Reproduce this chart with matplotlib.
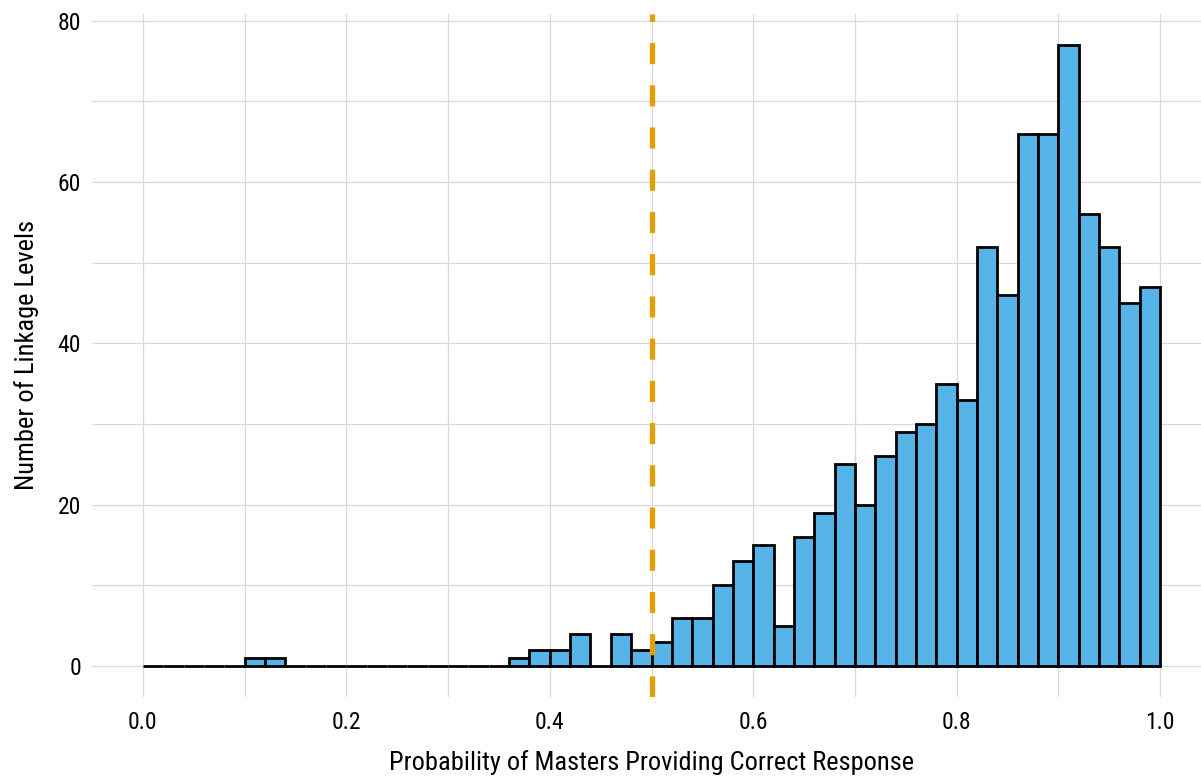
import matplotlib
matplotlib.use("Agg")
import matplotlib.pyplot as plt
from matplotlib import font_manager
import numpy as np

# Histogram of item-level probabilities (bin width 0.02 from 0 to 1)
bin_edges = [round(i * 0.02, 2) for i in range(51)]
counts = [0, 0, 0, 0, 0, 1, 1, 0, 0, 0,
          0, 0, 0, 0, 0, 0, 0, 0, 1, 2,
          2, 4, 0, 4, 2, 3, 6, 6, 10, 13,
          15, 5, 16, 19, 25, 20, 26, 29, 30, 35,
          33, 52, 46, 66, 66, 77, 56, 52, 45, 47]
cut_point = 0.5

x_ticks = [0.0, 0.2, 0.4, 0.6, 0.8, 1.0]
x_tick_labels = ["0.0", "0.2", "0.4", "0.6", "0.8", "1.0"]
y_ticks = [0, 20, 40, 60, 80]
x_title = "Probability of Masters Providing Correct Response"
y_title = "Number of Linkage Levels"

available = {f.name for f in font_manager.fontManager.ttflist}
candidates = ["Roboto Condensed", "Liberation Sans Narrow", "Arial Narrow",
              "Liberation Sans", "DejaVu Sans"]
family = [f for f in candidates if f in available]
condensed = family[0] in ("Roboto Condensed", "Liberation Sans Narrow", "Arial Narrow")
plt.rcParams["font.family"] = family
plt.rcParams["lines.scale_dashes"] = False

tick_size = 17 if condensed else 16
title_size = 19 if condensed else 17

W, H = 1201, 779
fig = plt.figure(figsize=(W / 100, H / 100), dpi=100)
ax = fig.add_axes([92 / W, (H - 697) / H, (1211 - 92) / W, (697 - 14) / H])

lefts = np.array(bin_edges[:-1])
widths = np.diff(bin_edges)
ax.bar(lefts, counts, width=widths, align="edge", color="#56B4E9",
       edgecolor="black", linewidth=2.0, zorder=2)

ymax = max(counts)
ylo, yhi = -0.05 * ymax, ymax * 1.05
ax.plot([cut_point, cut_point], [ylo, yhi], color="#E69F00", linewidth=3.8,
        dashes=(15.2, 15.2), solid_capstyle="butt", dash_capstyle="butt", zorder=3)

ax.set_xlim(-0.05, 1.05)
ax.set_ylim(ylo, yhi)

ax.set_xticks(x_ticks)
ax.set_xticklabels(x_tick_labels)
ax.set_xticks([0.1, 0.3, 0.5, 0.7, 0.9], minor=True)
ax.set_yticks(y_ticks)
ax.set_yticks([10, 30, 50, 70], minor=True)

ax.grid(which="both", color="#D9D9D9", linewidth=0.9, zorder=0)
ax.set_axisbelow(True)
for s in ax.spines.values():
    s.set_visible(False)
ax.tick_params(which="both", length=0, labelsize=tick_size, colors="black")
ax.tick_params(axis="x", pad=10)
ax.tick_params(axis="y", pad=8)

ax.set_xlabel(x_title, fontsize=title_size, labelpad=12)
ax.set_ylabel(y_title, fontsize=title_size, labelpad=13)

fig.savefig("out.png", dpi=100)
